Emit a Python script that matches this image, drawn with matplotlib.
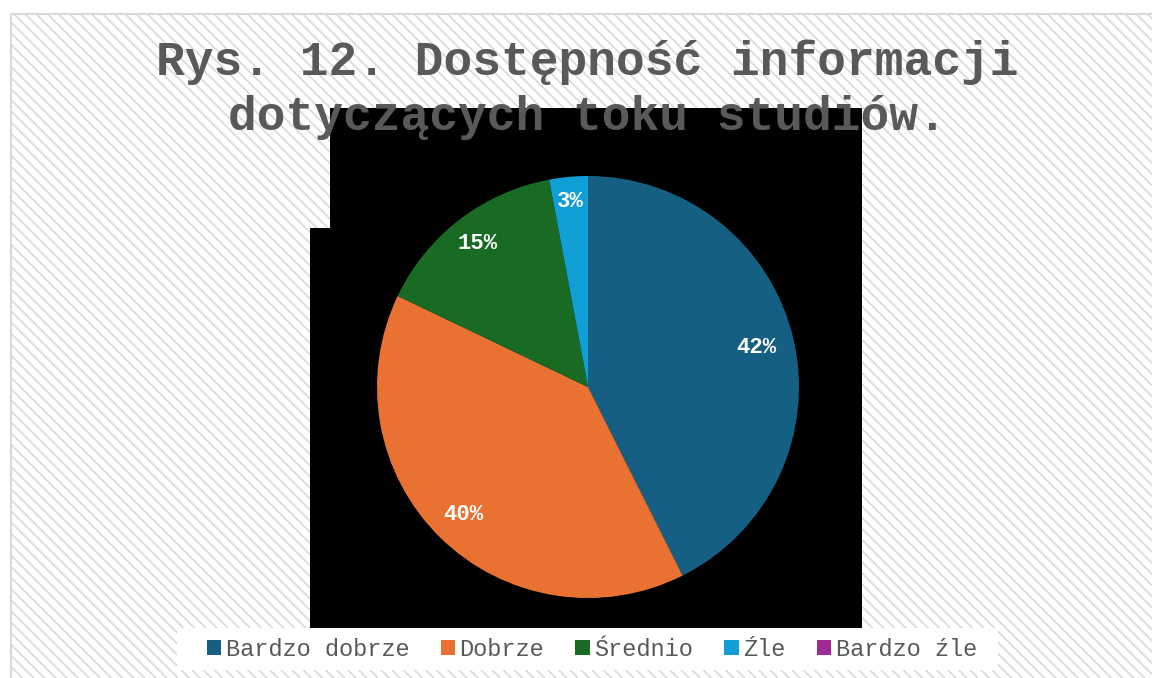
import numpy as np
import matplotlib
matplotlib.use("Agg")
import matplotlib.pyplot as plt
from matplotlib.patches import Rectangle, Polygon, Patch

kategorie = ["Bardzo dobrze", "Dobrze", "Średnio", "Źle", "Bardzo źle"]
wartosci = [42.6, 39.5, 14.95, 2.95, 0]
etykiety = ["42%", "40%", "15%", "3%", ""]
kolory = ["#156082", "#E97132", "#196B24", "#0F9ED5", "#A02B93"]
tytul = "Rys. 12. Dostępność informacji\ndotyczących toku studiów."

W, H = 1152, 678
szary = "#595959"
mono = ["Liberation Mono", "DejaVu Sans Mono"]


def px(x, y):
    # piksele (od lewego gornego rogu) -> wspolrzedne figury
    return (x / W, 1 - y / H)


fig = plt.figure(figsize=(W / 100, H / 100), dpi=100)
fig.patch.set_facecolor("white")

# tlo wykresu w ukosne paski
plt.rcParams["hatch.color"] = "#f2f2f2"
plt.rcParams["hatch.linewidth"] = 1.2
tlo = Rectangle(px(11, 690), (W - 11 + 20) / W, (690 - 14) / H, transform=fig.transFigure,
                facecolor="white", edgecolor="#d9d9d9", hatch="\\\\\\", linewidth=1.5, zorder=0)
fig.add_artist(tlo)

# czarny obszar wykresu
obszar = Polygon([px(330, 108), px(862, 108), px(862, 628), px(310, 628), px(310, 228), px(330, 228)],
                 closed=True, transform=fig.transFigure, facecolor="black", edgecolor="none", zorder=1)
fig.add_artist(obszar)

# biale pole legendy
pole = Rectangle(px(177, 670), (998 - 177) / W, (670 - 628) / H, transform=fig.transFigure,
                 facecolor="white", edgecolor="none", zorder=1)
fig.add_artist(pole)

# wykres kolowy
cx, cy, r = 588, 387, 211
ax = fig.add_axes([(cx - r) / W, 1 - (cy + r) / H, 2 * r / W, 2 * r / H])
ax.set_zorder(2)

wedges, _ = ax.pie(wartosci, colors=kolory, startangle=90, counterclock=False)
ax.set_xlim(-1, 1)
ax.set_ylim(-1, 1)
ax.set_aspect("equal")
ax.axis("off")

# etykiety procentowe wewnatrz wycinkow
odleglosci = [0.82, 0.845, 0.86, 0.885, 0.85]
for w, tekst, d in zip(wedges, etykiety, odleglosci):
    if not tekst:
        continue
    kat = np.deg2rad((w.theta1 + w.theta2) / 2)
    ax.text(d * np.cos(kat), d * np.sin(kat), tekst, ha="center", va="center",
            color="white", fontsize=16, fontweight="bold", family=mono)

# tytul
fig.text(587 / W, 1 - 90 / H, tytul, ha="center", va="center", fontsize=34.5, fontweight="bold",
         color=szary, family=mono, linespacing=1.28, zorder=3)

# legenda
uchwyty = [Patch(facecolor=k, edgecolor="none") for k in kolory]
leg = fig.legend(uchwyty, kategorie, loc="center", bbox_to_anchor=px(592, 649), ncol=5,
                 frameon=False, handlelength=0.6, handleheight=0.6, handletextpad=0.2,
                 columnspacing=1.32, prop=dict(family=mono, size=17))
leg.set_zorder(3)
for t in leg.get_texts():
    t.set_color(szary)

fig.savefig("out.png", dpi=100)
